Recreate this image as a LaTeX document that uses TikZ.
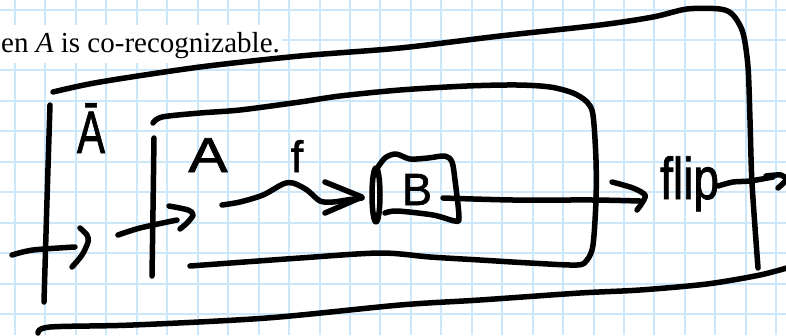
\documentclass[tikz,border=0pt]{standalone}
\usepackage{fontspec}
\setmainfont{Liberation Serif}
\newfontfamily\handfont[FakeBold=1.5]{Liberation Sans}
\definecolor{gridblue}{RGB}{205,231,250}
\tikzset{
  ink/.style={line width=5.5pt, line cap=round, line join=round, black},
  gridline/.style={gridblue, line width=2pt},
  handtext/.style={inner sep=0pt, text=black},
}
\begin{document}
\begin{tikzpicture}[x=1pt,y=-1pt]
\useasboundingbox (0,0) rectangle (786,335);
\fill[white] (0,0) rectangle (786,335);
% grid paper
\foreach \k in {0,...,25} { \draw[gridline] ({15+30.45*\k},0) -- ({15+30.45*\k},335); }
\foreach \k in {0,...,10} { \draw[gridline] (0,{9.5+30.45*\k}) -- (786,{9.5+30.45*\k}); }
% title text
\fill[white] (0,25) rectangle (282,63);
\node[anchor=base west, inner sep=0pt, font=\fontsize{29}{34}\selectfont] (title) at (1,52) {en \textit{A} is co-recognizable.};
% outer box
\draw[ink] plot[smooth, tension=0.5] coordinates {(53,92) (100,82) (200,67) (300,56) (400,48) (500,36) (600,25) (653,17) (687,9) (720,9) (733,15) (743,33) (748,67) (750,120) (752,183) (758,268)};
\draw[ink] plot[smooth] coordinates {(50,105) (47,200) (44,302)};
\draw[ink] plot[smooth, tension=0.5] coordinates {(38,333) (50,327) (133,325) (267,318) (400,305) (480,300) (580,293) (640,290) (707,284) (760,275) (790,267)};
% inner box
\draw[ink] plot[smooth, tension=0.5] coordinates {(153,123) (162,117) (200,113) (240,110) (300,102) (340,96) (400,90) (467,86) (517,85) (550,87) (573,93) (587,102) (593,115) (596,160) (596,200) (593,245) (587,260) (577,265) (530,263) (480,260) (430,257) (380,253) (300,258) (190,266)};
\draw[ink] plot[smooth] coordinates {(154,138) (153,210) (152,276)};
% input arrows
\draw[ink] plot[smooth] coordinates {(12,255) (33,250) (75,247)};
\draw[ink] plot[smooth] coordinates {(80,228) (87,235) (88,242) (82,255) (72,267)};
\draw[ink] plot[smooth] coordinates {(118,235) (140,228) (177,220)};
\draw[ink] plot[smooth, tension=0.5] coordinates {(169,206) (188,210) (193,215) (187,223) (180,229)};
% squiggly arrow f
\draw[ink] plot[smooth] coordinates {(222,205) (240,202) (263,195) (283,184) (293,183) (307,190) (320,201) (333,202) (347,200) (362,198)};
\draw[ink] (325,182) -- (362,197) -- (325,213);
% B box
\draw[ink] (376,195) ellipse [x radius=4, y radius=27];
\draw[ink] plot[smooth, tension=0.5] coordinates {(376,170) (385,158) (396,154) (410,159) (428,158) (445,156) (452,162) (455,180) (459,217) (455,221) (433,215) (397,211) (385,213)};
% arrow to flip
\draw[ink] plot[smooth] coordinates {(443,198) (513,200) (593,200) (640,201)};
\draw[ink] plot[smooth, tension=0.5] coordinates {(612,182) (633,188) (645,195) (642,203) (637,210)};
% arrow out of flip
\draw[ink] plot[smooth] coordinates {(718,186) (733,182) (750,181) (773,177)};
\draw[ink] plot[smooth, tension=0.5] coordinates {(766,176) (781,175) (786,180) (778,188)};
% labels
\node[handtext, anchor=base, xscale=0.7, font=\handfont\fontsize{60}{60}\selectfont] (Abar) at (91,153) {Ā};
\node[handtext, anchor=base, xscale=1.2, font=\handfont\fontsize{49}{49}\selectfont] (A) at (208,172) {A};
\node[handtext, anchor=base, font=\handfont\fontsize{44}{44}\selectfont] (f) at (297,172) {f};
\node[handtext, anchor=base, font=\handfont\fontsize{45}{45}\selectfont] (B) at (417,205) {B};
\node[handtext, anchor=base west, xscale=0.78, font=\handfont\fontsize{59}{59}\selectfont] (flip) at (660,199) {flip};
\end{tikzpicture}
\end{document}
